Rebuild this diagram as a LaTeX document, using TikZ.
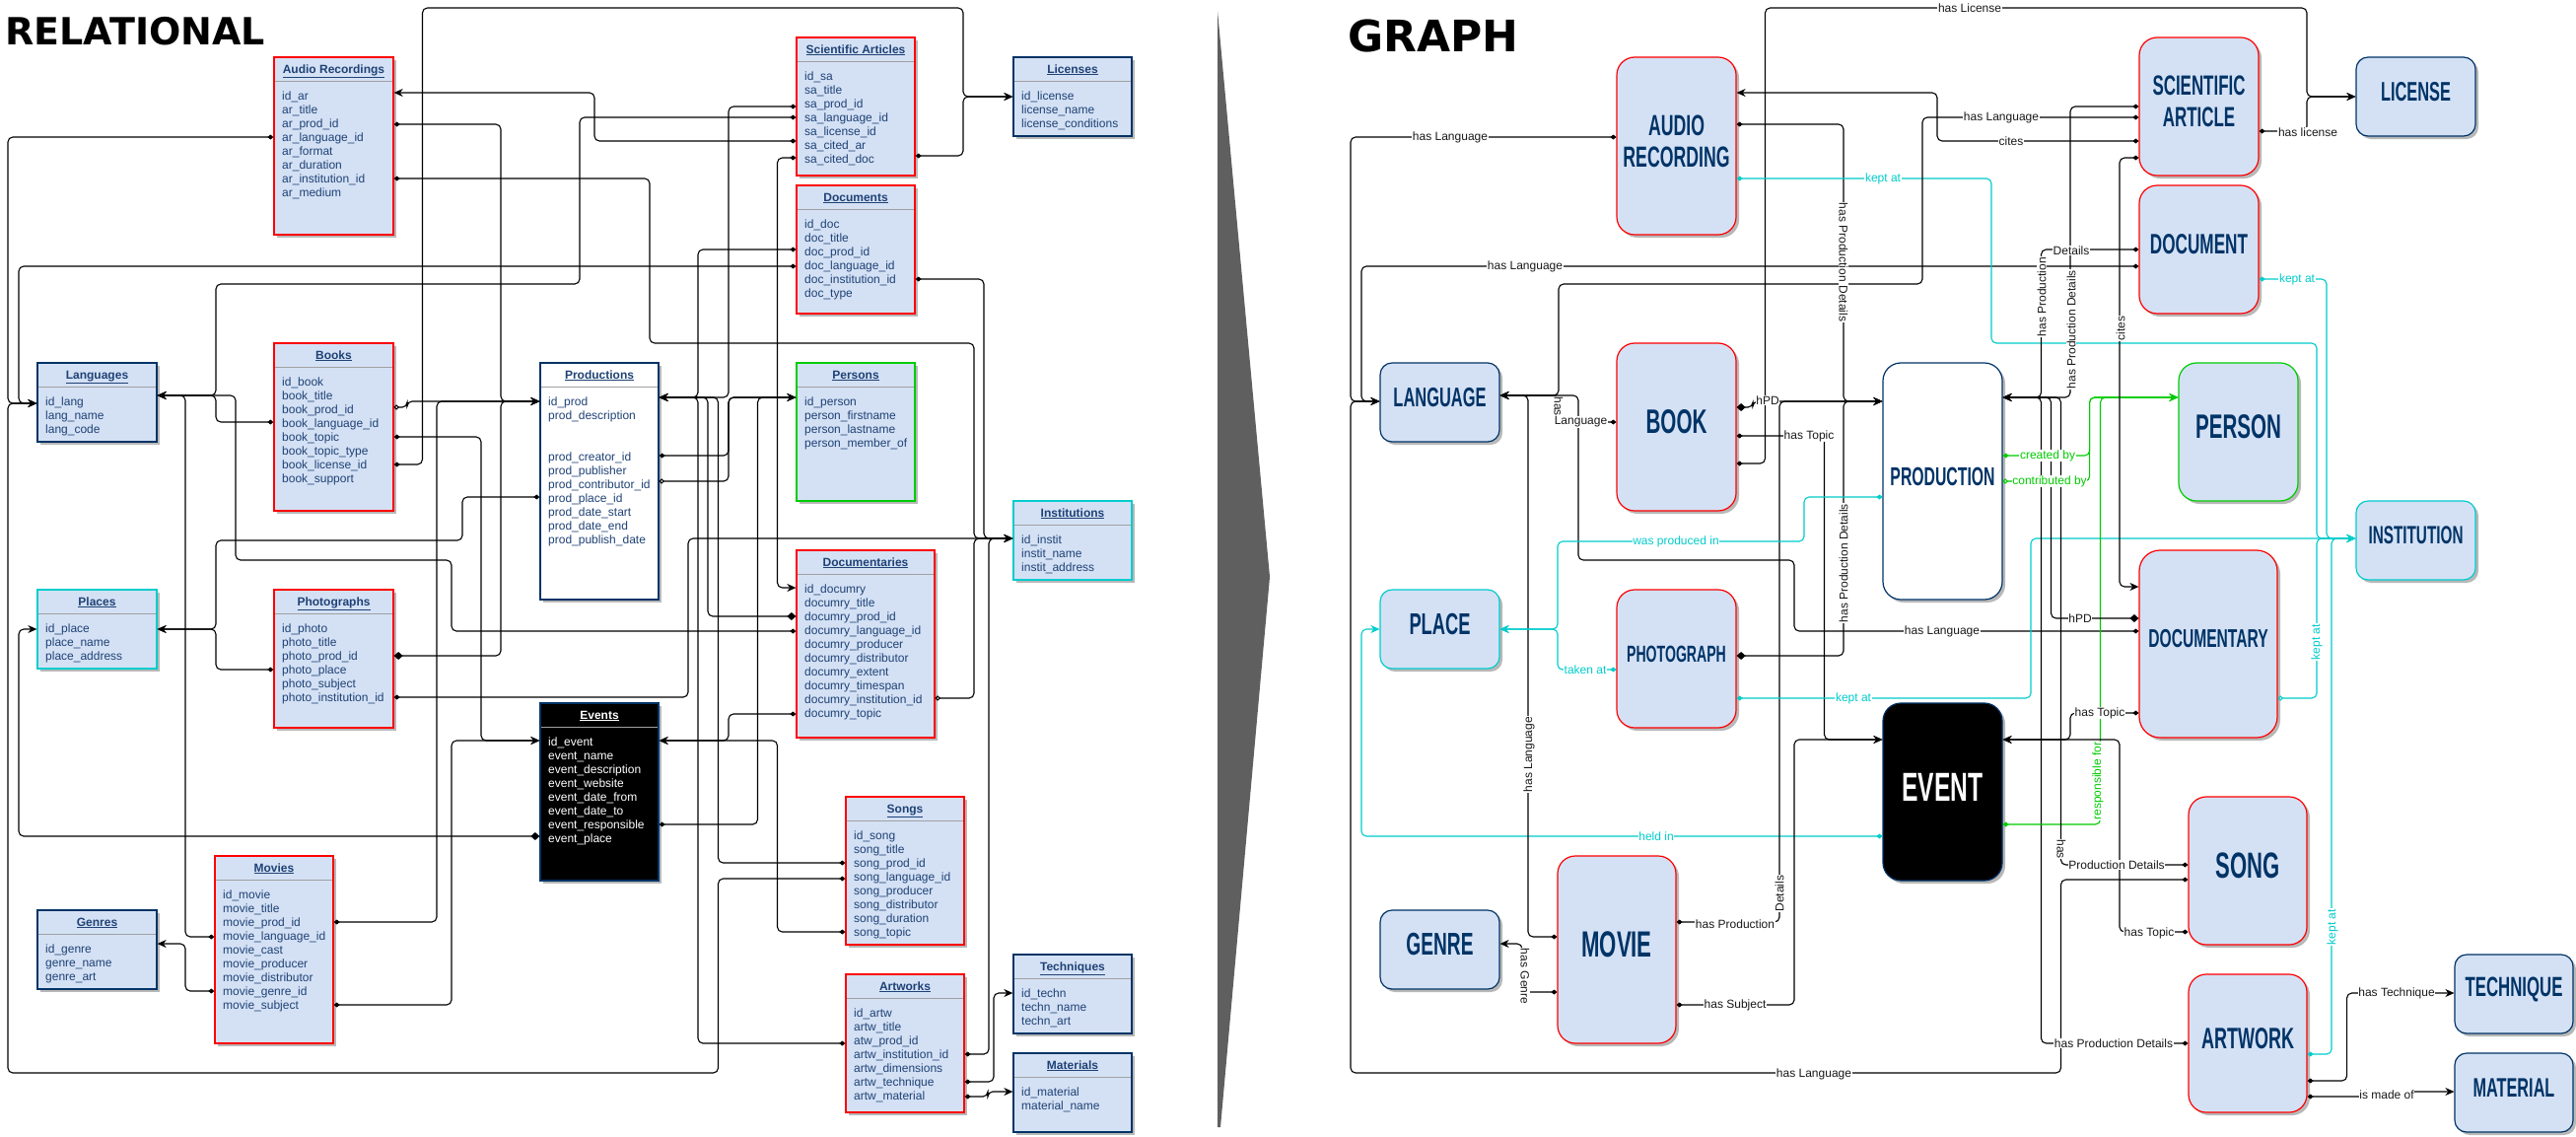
\documentclass[tikz,border=0pt]{standalone}
\usepackage{fontspec}
\setmainfont{Liberation Sans}
\newfontfamily\condb[FakeStretch=0.6]{Liberation Sans}
\newfontfamily\titlef{DejaVu Sans}
\usetikzlibrary{arrows.meta,shadows}
\definecolor{bfill}{HTML}{D4E1F5}
\definecolor{navy}{HTML}{003366}
\definecolor{fieldc}{HTML}{1F4275}
\definecolor{redb}{HTML}{FF0000}
\definecolor{cyanb}{HTML}{00CCCC}
\definecolor{greenb}{HTML}{00CC00}
\definecolor{sepc}{HTML}{5F5F5F}
\definecolor{divc}{HTML}{A0A0A0}
\tikzset{
  relnode/.style={rectangle, inner sep=0pt, line width=1.3pt, drop shadow={shadow xshift=3pt, shadow yshift=-3pt, fill=black!28, opacity=1}},
  gnode/.style={rectangle, inner sep=0pt, line width=1.2pt, drop shadow={shadow xshift=3pt, shadow yshift=-3pt, fill=black!28, opacity=1}},
  hdrtext/.style={font=\bfseries\fontsize{12}{14}\selectfont, inner sep=0pt},
  fieldtext/.style={font=\fontsize{12}{14}\selectfont, inner sep=0pt},
  divline/.style={draw=divc, line width=1pt},
  conn/.style={draw=black, line width=1.1pt, rounded corners=5pt},
  cyc/.style={conn, draw=cyanb},
  grc/.style={conn, draw=greenb},
  dotto/.style={{Diamond[length=6pt,width=5pt]}-{Stealth[length=9pt,width=8pt]}},
  bigto/.style={{Diamond[length=9pt,width=8pt]}-{Stealth[length=9pt,width=8pt]}},
  ocirc/.style={{Circle[open,length=5pt,width=5pt]}-{Stealth[length=9pt,width=8pt]}},
  elab/.style={fill=white, inner sep=0.6pt, font=\fontsize{12}{13}\selectfont, text=black!90},
  clab/.style={elab, text=cyanb},
  glab/.style={elab, text=greenb},
}
\newcommand\RelBox[9]{%
  \node[relnode,#6,minimum width={#4-#2},minimum height={#5-#3}] (#1) at ({(#2+#4)/2},{(#3+#5)/2}) {};
  \draw[divline] ({#2+0.7},{#3+24}) -- ({#4-0.7},{#3+24});
  \node[hdrtext,text=#7,anchor=base] (#1t) at ({(#2+#4)/2},{#3+16}) {\underline{#8}};
  \foreach \ff [count=\ii] in {#9} {\node[fieldtext,text=#7,anchor=base west] (#1f\ii) at ({#2+8},{#3+43+14*(\ii-1)}) {\ff};}%
}
\newcommand\GBox[9]{%
  \node[gnode,#6,rounded corners={0.15*min(#4-#2,#5-#3)},minimum width={#4-#2},minimum height={#5-#3}] (#1) at ({(#2+#4)/2},{(#3+#5)/2}) {};
  \node[text=navy,#6,draw=none,fill=none,inner sep=0pt,align=center,font={\condb\bfseries\fontsize{#7}{#8}\selectfont}] (#1x) at ([yshift=5pt]#1.center) {#9};
}
\begin{document}
\begin{tikzpicture}[x=1pt,y=-1pt]
\useasboundingbox (0,0) rectangle (2613,1152);
\fill[white] (0,0) rectangle (2613,1152);

% titles
\node[font=\titlef\bfseries\fontsize{38}{40}\selectfont, anchor=base west, inner sep=0pt] (reltitle) at (5,45) {RELATIONAL};
\node[font=\titlef\bfseries\fontsize{44}{46}\selectfont, anchor=base west, inner sep=0pt] (graphtitle) at (1367,52) {GRAPH};

% separator
\fill[sepc] (1235,11) -- (1288,585) -- (1238,1143) -- (1235,1143) -- cycle;

% ===== relational tables =====
\RelBox{ar}{278}{58}{399}{238}{draw=redb,fill=bfill}{fieldc}{Audio Recordings}{id\_ar, ar\_title, ar\_prod\_id, ar\_language\_id, ar\_format, ar\_duration, ar\_institution\_id, ar\_medium}
\RelBox{sa}{808}{38}{928}{178}{draw=redb,fill=bfill}{fieldc}{Scientific Articles}{id\_sa, sa\_title, sa\_prod\_id, sa\_language\_id, sa\_license\_id, sa\_cited\_ar, sa\_cited\_doc}
\RelBox{lic}{1028}{58}{1148}{138}{draw=navy,fill=bfill}{fieldc}{Licenses}{id\_license, license\_name, license\_conditions}
\RelBox{doc}{808}{188}{928}{318}{draw=redb,fill=bfill}{fieldc}{Documents}{id\_doc, doc\_title, doc\_prod\_id, doc\_language\_id, doc\_institution\_id, doc\_type}
\RelBox{lang}{38}{368}{159}{448}{draw=navy,fill=bfill}{fieldc}{Languages}{id\_lang, lang\_name, lang\_code}
\RelBox{book}{278}{348}{399}{518}{draw=redb,fill=bfill}{fieldc}{Books}{id\_book, book\_title, book\_prod\_id, book\_language\_id, book\_topic, book\_topic\_type, book\_license\_id, book\_support}
\RelBox{prod}{548}{368}{668}{608}{draw=navy,fill=white}{fieldc}{Productions}{id\_prod, prod\_description, {}, {}, prod\_creator\_id, prod\_publisher, prod\_contributor\_id, prod\_place\_id, prod\_date\_start, prod\_date\_end, prod\_publish\_date}
\RelBox{pers}{808}{368}{928}{508}{draw=greenb,fill=bfill}{fieldc}{Persons}{id\_person, person\_firstname, person\_lastname, person\_member\_of}
\RelBox{inst}{1028}{508}{1148}{588}{draw=cyanb,fill=bfill}{fieldc}{Institutions}{id\_instit, instit\_name, instit\_address}
\RelBox{place}{38}{598}{159}{678}{draw=cyanb,fill=bfill}{fieldc}{Places}{id\_place, place\_name, place\_address}
\RelBox{photo}{278}{598}{399}{738}{draw=redb,fill=bfill}{fieldc}{Photographs}{id\_photo, photo\_title, photo\_prod\_id, photo\_place, photo\_subject, photo\_institution\_id}
\RelBox{docu}{808}{558}{948}{748}{draw=redb,fill=bfill}{fieldc}{Documentaries}{id\_documry, documry\_title, documry\_prod\_id, documry\_language\_id, documry\_producer, documry\_distributor, documry\_extent, documry\_timespan, documry\_institution\_id, documry\_topic}
\RelBox{evt}{548}{713}{668}{893}{draw=navy,fill=black}{white}{Events}{id\_event, event\_name, event\_description, event\_website, event\_date\_from, event\_date\_to, event\_responsible, event\_place}
\RelBox{song}{858}{808}{978}{958}{draw=redb,fill=bfill}{fieldc}{Songs}{id\_song, song\_title, song\_prod\_id, song\_language\_id, song\_producer, song\_distributor, song\_duration, song\_topic}
\RelBox{movie}{218}{868}{338}{1058}{draw=redb,fill=bfill}{fieldc}{Movies}{id\_movie, movie\_title, movie\_prod\_id, movie\_language\_id, movie\_cast, movie\_producer, movie\_distributor, movie\_genre\_id, movie\_subject}
\RelBox{genre}{38}{923}{159}{1003}{draw=navy,fill=bfill}{fieldc}{Genres}{id\_genre, genre\_name, genre\_art}
\RelBox{artw}{858}{988}{978}{1128}{draw=redb,fill=bfill}{fieldc}{Artworks}{id\_artw, artw\_title, atw\_prod\_id, artw\_institution\_id, artw\_dimensions, artw\_technique, artw\_material}
\RelBox{tech}{1028}{968}{1148}{1048}{draw=navy,fill=bfill}{fieldc}{Techniques}{id\_techn, techn\_name, techn\_art}
\RelBox{mat}{1028}{1068}{1148}{1148}{draw=navy,fill=bfill}{fieldc}{Materials}{id\_material, material\_name}

% ===== relational connectors =====
\draw[conn,dotto] (book.east|-0,471) -- (428.5,471) -- (428.5,8) -- (977,8) -- (977,98) -- (lic.west|-0,98);
\draw[conn,dotto] (sa.east|-0,158) -- (977,158) -- (977,98) -- (lic.west|-0,98);
\draw[conn,dotto] (sa.west|-0,143) -- (603,143) -- (603,94) -- (ar.east|-0,94);
\draw[conn,dotto] (ar.east|-0,126) -- (508,126) -- (508,407) -- (prod.west|-0,407);
\draw[conn,bigto] (photo.east|-0,665) -- (508,665) -- (508,407) -- (prod.west|-0,407);
\draw[conn,dotto] (ar.west|-0,139) -- (8,139) -- (8,409) -- (lang.west|-0,409);
\draw[conn,dotto] (song.west|-0,891) -- (728.5,891) -- (728.5,1088) -- (8,1088) -- (8,409) -- (lang.west|-0,409);
\draw[conn,dotto] (doc.west|-0,270) -- (19,270) -- (19,409) -- (lang.west|-0,409);
\draw[conn,bigto] (evt.west|-0,848) -- (19,848) -- (19,638) -- (place.west|-0,638);
\draw[conn,dotto] (ar.east|-0,181) -- (659,181) -- (659,348) -- (988,348) -- (988,546) -- (inst.west|-0,546);
\draw[conn,dotto] (sa.west|-0,119) -- (588,119) -- (588,288) -- (219,288) -- (219,401) -- (lang.east|-0,401);
\draw[conn,dotto] (book.west|-0,428) -- (219,428) -- (219,401) -- (lang.east|-0,401);
\draw[conn,dotto] (docu.west|-0,640) -- (458,640) -- (458,568) -- (239,568) -- (239,401) -- (lang.east|-0,401);
\draw[conn,dotto] (movie.west|-0,950) -- (188,950) -- (188,401) -- (lang.east|-0,401);
\draw[conn,ocirc] (book.east|-0,413) -- (413,413) -- (413,407) -- (prod.west|-0,407);
\draw[conn,dotto] (book.east|-0,443) -- (488,443) -- (488,751) -- (evt.west|-0,751);
\draw[conn,dotto] (movie.east|-0,1019) -- (458,1019) -- (458,751) -- (evt.west|-0,751);
\draw[conn,dotto] (movie.east|-0,935) -- (443,935) -- (443,407) -- (prod.west|-0,407);
\draw[conn,dotto] (prod.west|-0,504) -- (469,504) -- (469,548) -- (219,548) -- (219,638) -- (place.east|-0,638);
\draw[conn,dotto] (photo.west|-0,679) -- (219,679) -- (219,638) -- (place.east|-0,638);
\draw[conn,dotto] (photo.east|-0,707) -- (698,707) -- (698,546) -- (inst.west|-0,546);
\draw[conn,dotto] (doc.west|-0,253) -- (708,253) -- (708,403) -- (prod.east|-0,403);
\draw[conn,dotto] (artw.west|-0,1058) -- (708,1058) -- (708,403) -- (prod.east|-0,403);
\draw[conn,dotto] (sa.west|-0,108) -- (739,108) -- (739,403) -- (prod.east|-0,403);
\draw[conn,dotto] (prod.east|-0,462) -- (739,462) -- (739,403) -- (pers.west|-0,403);
\draw[conn,ocirc] (prod.east|-0,488) -- (739,488) -- (739,403) -- (pers.west|-0,403);
\draw[conn,dotto] (evt.east|-0,836) -- (768.5,836) -- (768.5,403) -- (pers.west|-0,403);
\draw[conn,dotto] (sa.west|-0,160) -- (788.5,160) -- (788.5,596) -- (docu.west|-0,596);
\draw[conn,dotto] (song.west|-0,945) -- (788.5,945) -- (788.5,751) -- (evt.east|-0,751);
\draw[conn,dotto] (docu.west|-0,724) -- (739,724) -- (739,751) -- (evt.east|-0,751);
\draw[conn,bigto] (docu.west|-0,625) -- (718,625) -- (718,403) -- (prod.east|-0,403);
\draw[conn,dotto] (song.west|-0,875) -- (728.5,875) -- (728.5,403) -- (prod.east|-0,403);
\draw[conn,dotto] (doc.east|-0,283) -- (998,283) -- (998,546) -- (inst.west|-0,546);
\draw[conn,dotto] (artw.east|-0,1069) -- (1003,1069) -- (1003,546) -- (inst.west|-0,546);
\draw[conn,ocirc] (docu.east|-0,708) -- (988,708) -- (988,546) -- (inst.west|-0,546);
\draw[conn,dotto] (artw.east|-0,1097) -- (1008,1097) -- (1008,1007) -- (tech.west|-0,1007);
\draw[conn,dotto] (artw.east|-0,1112) -- (1002,1112) -- (1002,1107) -- (mat.west|-0,1107);
\draw[conn,dotto] (movie.west|-0,1005) -- (188,1005) -- (188,957) -- (genre.east|-0,957);

% ===== graph nodes =====
\GBox{gar}{1640}{58}{1761}{238}{draw=redb,fill=bfill}{29.5}{32}{AUDIO\\RECORDING}
\GBox{gsa}{2170}{38}{2291}{178}{draw=redb,fill=bfill}{28.2}{32}{SCIENTIFIC\\ARTICLE}
\GBox{glic}{2390}{58}{2511}{138}{draw=navy,fill=bfill}{27.3}{30}{LICENSE}
\GBox{gdoc}{2170}{188}{2291}{318}{draw=redb,fill=bfill}{28.6}{30}{DOCUMENT}
\GBox{glang}{1400}{368}{1521}{448}{draw=navy,fill=bfill}{27.4}{30}{LANGUAGE}
\GBox{gbook}{1640}{348}{1761}{518}{draw=redb,fill=bfill}{34.4}{36}{BOOK}
\GBox{gprod}{1910}{368}{2031}{608}{draw=navy,fill=white}{26.3}{28}{PRODUCTION}
\GBox{gpers}{2210}{368}{2331}{508}{draw=greenb,fill=bfill}{34.3}{36}{PERSON}
\GBox{ginst}{2390}{508}{2511}{588}{draw=cyanb,fill=bfill}{25.5}{28}{INSTITUTION}
\GBox{gplace}{1400}{598}{1521}{678}{draw=cyanb,fill=bfill}{30.5}{32}{PLACE}
\GBox{gphoto}{1640}{598}{1761}{738}{draw=redb,fill=bfill}{23.5}{26}{PHOTOGRAPH}
\GBox{gdocu}{2170}{558}{2310}{748}{draw=redb,fill=bfill}{26}{28}{DOCUMENTARY}
\GBox{gevt}{1910}{713}{2031}{893}{draw=navy,fill=black,text=white}{41}{44}{EVENT}
\GBox{gsong}{2220}{808}{2340}{958}{draw=redb,fill=bfill}{36.8}{38}{SONG}
\GBox{gmovie}{1580}{868}{1700}{1058}{draw=redb,fill=bfill}{37}{38}{MOVIE}
\GBox{ggenre}{1400}{923}{1521}{1003}{draw=navy,fill=bfill}{31.9}{34}{GENRE}
\GBox{gartw}{2220}{988}{2340}{1128}{draw=redb,fill=bfill}{30}{32}{ARTWORK}
\GBox{gtech}{2490}{968}{2610}{1048}{draw=navy,fill=bfill}{28}{30}{TECHNIQUE}
\GBox{gmat}{2490}{1068}{2610}{1148}{draw=navy,fill=bfill}{27.1}{30}{MATERIAL}

% ===== graph connectors =====
\draw[conn,dotto] (gbook.east|-0,470) -- (1790.5,470) -- (1790.5,8) -- (2340,8) -- (2340,98) -- (glic.west|-0,98);
\draw[conn,dotto] (gsa.east|-0,133) -- (2340,133) -- (2340,98) -- (glic.west|-0,98);
\draw[conn,dotto] (gsa.west|-0,143) -- (1965,143) -- (1965,94) -- (gar.east|-0,94);
\draw[conn,dotto] (gar.east|-0,126) -- (1870,126) -- (1870,407) -- (gprod.west|-0,407);
\draw[conn,bigto] (gphoto.east|-0,665) -- (1870,665) -- (1870,407) -- (gprod.west|-0,407);
\draw[conn,dotto] (gar.west|-0,139) -- (1370,139) -- (1370,407) -- (glang.west|-0,407);
\draw[conn,dotto] (gsong.west|-0,892) -- (2090.5,892) -- (2090.5,1088) -- (1370,1088) -- (1370,407) -- (glang.west|-0,407);
\draw[conn,dotto] (gdoc.west|-0,270) -- (1381,270) -- (1381,407) -- (glang.west|-0,407);
\draw[cyc,dotto] (gevt.west|-0,848) -- (1381,848) -- (1381,638) -- (gplace.west|-0,638);
\draw[cyc,dotto] (gar.east|-0,181) -- (2020,181) -- (2020,348) -- (2350,348) -- (2350,546) -- (ginst.west|-0,546);
\draw[conn,dotto] (gsa.west|-0,119) -- (1950,119) -- (1950,288) -- (1581,288) -- (1581,401) -- (glang.east|-0,401);
\draw[conn,dotto] (gbook.west|-0,428) -- (1581,428) -- (1581,401) -- (glang.east|-0,401);
\draw[conn,dotto] (gdocu.west|-0,640) -- (1820,640) -- (1820,568) -- (1601,568) -- (1601,401) -- (glang.east|-0,401);
\draw[conn,dotto] (gmovie.west|-0,950) -- (1550,950) -- (1550,401) -- (glang.east|-0,401);
\draw[conn,bigto] (gbook.east|-0,413) -- (1778,413) -- (1778,407) -- (gprod.west|-0,407);
\draw[conn,dotto] (gbook.east|-0,442) -- (1850.5,442) -- (1850.5,750) -- (gevt.west|-0,750);
\draw[conn,dotto] (gmovie.east|-0,1019) -- (1820,1019) -- (1820,750) -- (gevt.west|-0,750);
\draw[conn,dotto] (gmovie.east|-0,935) -- (1805,935) -- (1805,407) -- (gprod.west|-0,407);
\draw[cyc,dotto] (gprod.west|-0,504) -- (1830,504) -- (1830,549) -- (1580,549) -- (1580,638) -- (gplace.east|-0,638);
\draw[cyc,dotto] (gphoto.west|-0,679) -- (1580,679) -- (1580,638) -- (gplace.east|-0,638);
\draw[cyc,dotto] (gphoto.east|-0,708) -- (2060,708) -- (2060,546) -- (ginst.west|-0,546);
\draw[conn,dotto] (gdoc.west|-0,253) -- (2070.5,253) -- (2070.5,403) -- (gprod.east|-0,403);
\draw[conn,dotto] (gartw.west|-0,1058) -- (2070.5,1058) -- (2070.5,403) -- (gprod.east|-0,403);
\draw[conn,dotto] (gsa.west|-0,108) -- (2100,108) -- (2100,403) -- (gprod.east|-0,403);
\draw[grc,dotto] (gprod.east|-0,462) -- (2119.6,462) -- (2119.6,403) -- (gpers.west|-0,403);
\draw[grc,ocirc] (gprod.east|-0,488) -- (2119.6,488) -- (2119.6,403) -- (gpers.west|-0,403);
\draw[grc,dotto] (gevt.east|-0,836) -- (2130.5,836) -- (2130.5,403) -- (gpers.west|-0,403);
\draw[conn,dotto] (gsa.west|-0,160) -- (2150,160) -- (2150,595) -- (gdocu.west|-0,595);
\draw[conn,dotto] (gsong.west|-0,945) -- (2150,945) -- (2150,750) -- (gevt.east|-0,750);
\draw[conn,dotto] (gdocu.west|-0,723) -- (2100,723) -- (2100,750) -- (gevt.east|-0,750);
\draw[conn,bigto] (gdocu.west|-0,627) -- (2080.5,627) -- (2080.5,403) -- (gprod.east|-0,403);
\draw[conn,dotto] (gsong.west|-0,877) -- (2090.5,877) -- (2090.5,403) -- (gprod.east|-0,403);
\draw[cyc,dotto] (gdoc.east|-0,283) -- (2360,283) -- (2360,546) -- (ginst.west|-0,546);
\draw[cyc,dotto] (gartw.east|-0,1069) -- (2365,1069) -- (2365,546) -- (ginst.west|-0,546);
\draw[cyc,ocirc] (gdocu.east|-0,708) -- (2350,708) -- (2350,546) -- (ginst.west|-0,546);
\draw[conn,dotto] (gartw.east|-0,1096) -- (2380.6,1096) -- (2380.6,1007) -- (gtech.west|-0,1007);
\draw[conn,dotto] (gartw.east|-0,1112) -- (2400,1112) -- (2400,1107) -- (gmat.west|-0,1107);
\draw[conn,dotto] (gmovie.west|-0,1006) -- (1544,1006) -- (1544,957) -- (ggenre.east|-0,957);

% ===== graph labels =====
\node[elab] (L1) at (1998,8) {has License};
\node[elab] (L2) at (2341,134) {has license};
\node[elab] (L3) at (2040,143) {cites};
\node[elab,rotate=-90] (L4) at (1870,266) {has Production Details};
\node[elab,rotate=90] (L5) at (1870,571) {has Production Details};
\node[elab] (L6) at (1471,139) {has Language};
\node[elab] (L7) at (1840,1089) {has Language};
\node[elab] (L8) at (1547,270) {has Language};
\node[clab] (L9) at (1680,848) {held in};
\node[clab] (L10) at (1910,181) {kept at};
\node[elab] (L11) at (2030,119) {has Language};
\node[elab,rotate=-90] (L12a) at (1581,412) {has};
\node[elab,anchor=west] (L12b) at (1576,428) {Language};
\node[elab] (L13) at (1970,640) {has Language};
\node[elab,rotate=90] (L14) at (1551,765) {has Language};
\node[elab] (L15) at (1793,406) {hPD};
\node[elab] (L16) at (1835,442) {has Topic};
\node[elab] (L17) at (1760,1019) {has Subject};
\node[elab] (L18a) at (1760,937) {has Production};
\node[elab,rotate=90] (L18b) at (1805,906) {Details};
\node[clab] (L19) at (1700,549) {was produced in};
\node[clab] (L20) at (1608,679) {taken at};
\node[clab] (L21) at (1880,708) {kept at};
\node[elab] (L22a) at (2101,254) {Details};
\node[elab,rotate=90] (L22b) at (2071,301) {has Production};
\node[elab] (L23) at (2144,1058) {has Production Details};
\node[elab,rotate=90] (L24) at (2101,334) {has Production Details};
\node[glab] (L25) at (2077,462) {created by};
\node[glab] (L26) at (2079,488) {contributed by};
\node[glab,rotate=90] (L27) at (2128,792) {responsible for};
\node[elab,rotate=90] (L28) at (2151,333) {cites};
\node[elab] (L29) at (2180,946) {has Topic};
\node[elab] (L30) at (2130,723) {has Topic};
\node[elab] (L31) at (2110,627) {hPD};
\node[elab,rotate=-90] (L32a) at (2091,861) {has};
\node[elab] (L32b) at (2147,877) {Production Details};
\node[clab] (L33) at (2330,283) {kept at};
\node[clab,rotate=90] (L34) at (2366,940) {kept at};
\node[clab,rotate=90] (L35) at (2350,651) {kept at};
\node[elab] (L36) at (2431,1007) {has Technique};
\node[elab] (L37) at (2421,1110) {is made of};
\node[elab,rotate=-90] (L38) at (1547,990) {has Genre};
\end{tikzpicture}
\end{document}
